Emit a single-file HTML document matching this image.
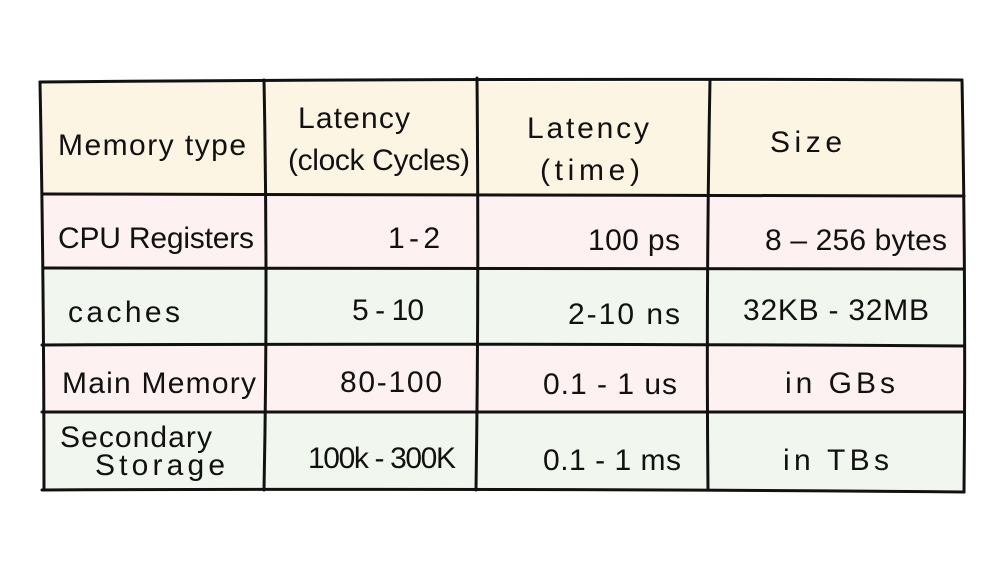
<!DOCTYPE html>
<html><head><meta charset="utf-8"><style>
html,body{margin:0;padding:0;background:#fff;width:1000px;height:562px;overflow:hidden}
svg text{font-family:"Liberation Sans",sans-serif;font-size:30px;fill:#111}
</style></head><body>
<svg width="1000" height="562" viewBox="0 0 1000 562">
<g>
<rect x="42" y="82" width="922" height="112" fill="#fdf5e4"/>
<rect x="42" y="194" width="922" height="74" fill="#fdf1f1"/>
<rect x="42" y="268" width="922" height="77" fill="#f1f7ee"/>
<rect x="42" y="345" width="922" height="67" fill="#fdf1f1"/>
<rect x="42" y="412" width="922" height="78" fill="#f1f7ee"/>
</g>
<g stroke="#111" stroke-width="3" fill="none" stroke-linecap="round">
<path d="M40 82 Q500 78 962 80"/>
<path d="M42 194 Q500 196 964 196"/>
<path d="M44 268 Q500 270 964 269"/>
<path d="M42 345 Q500 343 964 346"/>
<path d="M42 412 Q500 414 964 412"/>
<path d="M42 490 Q500 488 964 492"/>
<path d="M40 82 Q44 290 44 490"/>
<path d="M264 80 Q268 290 264 490"/>
<path d="M477 78 Q479 290 476 490"/>
<path d="M710 80 Q706 290 708 490"/>
<path d="M962 80 Q966 290 964 492"/>
</g>
<g>
<text x="58" y="155" textLength="188">Memory type</text>
<text x="298" y="128" textLength="112">Latency</text>
<text x="288" y="170" textLength="182">(clock Cycles)</text>
<text x="527" y="138" textLength="122">Latency</text>
<text x="540" y="180" textLength="100">(time)</text>
<text x="770" y="152" textLength="72">Size</text>
</g>
<g>
<text x="58" y="248" textLength="196">CPU Registers</text>
<text x="388" y="248" textLength="52">1-2</text>
<text x="588" y="250" textLength="92">100 ps</text>
<text x="765" y="250" textLength="182">8 – 256 bytes</text>
</g>
<g>
<text x="68" y="322" textLength="112">caches</text>
<text x="352" y="320" textLength="72">5 - 10</text>
<text x="568" y="324" textLength="112">2-10 ns</text>
<text x="743" y="320" textLength="186">32KB - 32MB</text>
</g>
<g>
<text x="62" y="393" textLength="194">Main Memory</text>
<text x="340" y="392" textLength="102">80-100</text>
<text x="543" y="394" textLength="134">0.1 - 1 us</text>
<text x="785" y="393" textLength="110">in GBs</text>
</g>
<g>
<text x="60" y="447" textLength="152">Secondary</text>
<text x="95" y="475" textLength="130">Storage</text>
<text x="308" y="468" textLength="148">100k - 300K</text>
<text x="543" y="470" textLength="138">0.1 - 1 ms</text>
<text x="783" y="470" textLength="106">in TBs</text>
</g>
</svg>
</body></html>
